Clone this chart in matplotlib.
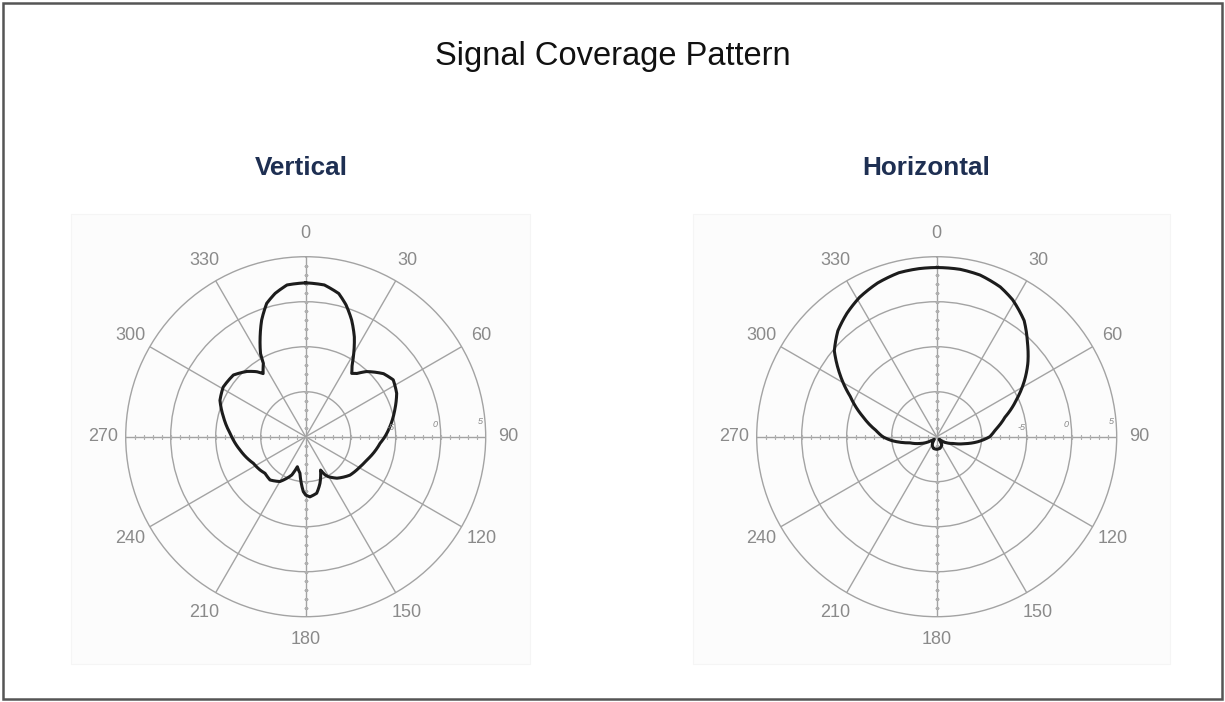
import numpy as np
import matplotlib
matplotlib.use('Agg')
import matplotlib.pyplot as plt
from matplotlib.patches import Rectangle

plt.rcParams['font.family'] = ['Liberation Sans', 'DejaVu Sans']

# vertical pattern: angle (deg) -> gain (dB)
vert_deg = [0, 7, 13, 17, 21.5, 26, 30, 33, 36, 39, 43, 51, 57, 64.5, 73,
            83, 90, 95, 111, 119, 131, 143, 150.5, 153, 156, 163, 169, 176,
            180, 182.5, 189, 195.5, 200, 210, 219.5, 228, 234, 243, 258.5,
            272.5, 283.5, 293, 301, 310.5, 318, 323, 326, 330, 331.5, 335.5,
            339.3, 343.7, 348, 353]
vert_db = [2.1, 1.99, 1.33, 0.32, -1.07, -2.67, -4.33, -5.54, -6.3, -5.96,
           -5.1, -3.87, -3.4, -3.8, -4.64, -5.56, -6.2, -6.7, -7.74, -8.1,
           -8.49, -9.23, -9.9, -10.23, -10.94, -9.58, -8.6, -8.3, -8.52, -8.9,
           -10.9, -11.54, -10.47, -9.25, -8.77, -8.92, -8.72, -8.48, -7.56,
           -6.6, -5.6, -4.65, -4.3, -4.44, -5.24, -5.95, -6.54, -5.59, -4.48,
           -2.79, -1.15, 0.44, 1.29, 1.99]

# horizontal pattern
horz_deg = [0, 8, 15, 23, 29, 37, 44, 51, 57, 65, 74, 83, 90, 97, 104, 112,
            120, 130, 137, 149, 165, 180, 195, 208, 223, 235, 248, 257, 265,
            270, 276, 285, 295, 303, 310, 317, 324, 331, 339, 347, 354]
horz_db = [3.8, 3.78, 3.6, 3.08, 2.4, 1.15, -0.48, -1.96, -3.33, -5.2, -7.1,
           -8.4, -9.1, -10.4, -11.8, -13.0, -13.6, -14.2, -14.6, -13.9,
           -13.65, -13.6, -13.65, -13.95, -14.6, -14.2, -13.0, -11.96, -10.0,
           -9.0, -8.2, -6.55, -4.4, -2.15, -0.15, 1.1, 1.96, 2.7, 3.3, 3.7,
           3.78]

rings = [-10, -5, 0]
ring_labels = [-5, 0, 5]
r_min, r_max = -15, 5
spokes = list(range(0, 360, 30))

grid_col = '#a3a3a3'
text_col = '#8a8a8a'


def polar_panel(ax, deg, db):
    ax.set_theta_zero_location('N')
    ax.set_theta_direction(-1)
    ax.set_ylim(r_min, r_max)
    ax.set_facecolor('none')
    ax.set_xticks(np.deg2rad(spokes))
    ax.set_xticklabels([str(s) for s in spokes], color=text_col, fontsize=13)
    ax.tick_params(axis='x', pad=6)
    ax.set_yticks(rings)
    ax.set_yticklabels([])
    ax.grid(True, color=grid_col, lw=1.0)
    ax.spines['polar'].set_color(grid_col)
    ax.spines['polar'].set_linewidth(1.0)

    # 1 dB ticks along the main axes
    steps = np.arange(r_min + 1, r_max)
    for a in (0, 180):
        ax.plot(np.full(len(steps), np.deg2rad(a)), steps, ls='none',
                marker='_', ms=3.5, mew=0.9, color='#b0b0b0')
    for a in (90, 270):
        ax.plot(np.full(len(steps), np.deg2rad(a)), steps, ls='none',
                marker='|', ms=3.5, mew=0.9, color='#b0b0b0')

    for v in ring_labels:
        ax.text(np.deg2rad(86.5), v - 0.55, str(v), fontsize=6.5,
                color=text_col, ha='center', va='bottom', style='italic')

    # close the loop going forward past 360 so the last segment stays short
    th = np.deg2rad(np.r_[deg, deg[0] + 360])
    r = np.r_[db, db[0]]
    ln, = ax.plot(th, r, color='#1c1c1c', lw=2.2, solid_joinstyle='round')
    # draw each segment along the polar grid instead of as a chord
    ln.get_path()._interpolation_steps = 12


fig = plt.figure(figsize=(12.25, 7.02), dpi=100)
fig.patch.set_facecolor('white')

# faint panel backgrounds
for x0, w in ((71, 459), (693, 477)):
    fig.patches.append(Rectangle((x0 / 1225, 1 - 664 / 702), w / 1225, 450 / 702,
                                 transform=fig.transFigure, facecolor='#fcfcfc',
                                 edgecolor='#f5f5f5', lw=0.8, zorder=-1))

ax1 = fig.add_axes([0.1026, 0.1215, 0.2939, 0.5128], projection='polar')
ax2 = fig.add_axes([0.6177, 0.1215, 0.2939, 0.5128], projection='polar')
polar_panel(ax1, vert_deg, vert_db)
polar_panel(ax2, horz_deg, horz_db)

fig.text(0.5, 1 - 57 / 702, 'Signal Coverage Pattern', ha='center',
         va='center', fontsize=23.5, color='#111111')
fig.text(301 / 1225, 1 - 168 / 702, 'Vertical', ha='center', va='center',
         fontsize=18.8, fontweight='bold', color='#1e2f52')
fig.text(926 / 1225, 1 - 168 / 702, 'Horizontal', ha='center', va='center',
         fontsize=18.8, fontweight='bold', color='#1e2f52')

# outer frame
fig.patches.append(Rectangle((3 / 1225, 3 / 702), 1219 / 1225, 696 / 702,
                             transform=fig.transFigure, facecolor='none',
                             edgecolor='#555555', lw=1.8))

fig.savefig('out.png', dpi=100)
